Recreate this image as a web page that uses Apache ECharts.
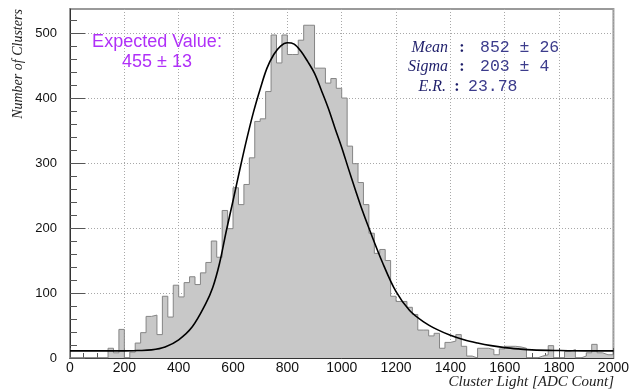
<!DOCTYPE html>
<html>
<head>
<meta charset="utf-8">
<script src="https://cdn.jsdelivr.net/npm/echarts@6/dist/echarts.min.js"></script>
<style>
html,body{margin:0;padding:0;background:#fff;}
#c{width:632px;height:390px;}
</style>
</head>
<body>
<div id="c"></div>
<script>
// Histogram: 100 bins of width 20 from 0 to 2000 (counts)
const binWidth = 20;
const counts = [
  0, 0, 0, 0, 0, 0, 0, 15, 8, 44,
  0, 9, 23, 39, 64, 66, 36, 95, 63, 112,
  94, 116, 125, 113, 131, 147, 180, 155, 227, 199,
  262, 236, 267, 308, 364, 368, 410, 497, 454, 497,
  467, 467, 489, 512, 512, 446, 446, 423, 430, 415,
  400, 326, 299, 270, 236, 192, 161, 167, 150, 95,
  87, 87, 78, 67, 43, 43, 34, 38, 15, 24,
  26, 36, 18, 3, 0, 15, 15, 13, 5, 14,
  18, 18, 17, 15, 0, 0, 3, 5, 19, 0,
  0, 10, 13, 0, 3, 8, 21, 8, 5, 5
];
// Fit curve
const fitX = [0, 100, 200, 250, 300, 350, 400, 450, 500, 525, 550, 575, 600, 625, 650, 675, 700, 725, 750, 775, 800, 825, 850, 875, 900, 925, 950, 975, 1000, 1025, 1050, 1075, 1100, 1150, 1200, 1250, 1300, 1350, 1400, 1450, 1500, 1550, 1600, 1650, 1700, 1800, 1900, 2000];
const fitY = [11, 11, 11, 11.5, 12.5, 17, 28, 48, 84, 108, 145, 195, 242, 290, 336, 378, 414, 446, 467, 480, 485, 483, 472, 456, 438, 412, 385, 354, 324, 291, 259, 228, 200, 147, 102, 73, 56, 44, 35, 28, 23, 19, 16, 14, 12.5, 11.5, 11, 11];
const xTicks = [0, 200, 400, 600, 800, 1000, 1200, 1400, 1600, 1800, 2000];
const yTicks = [0, 100, 200, 300, 400, 500];
const yMinorTicks = [20, 40, 60, 80, 120, 140, 160, 180, 220, 240, 260, 280, 320, 340, 360, 380, 420, 440, 460, 480, 520];
const yMax = 537;

const histData = counts.map((v, i) => [i * binWidth, v]);
histData.push([counts.length * binWidth, counts[counts.length - 1]]);
const fitData = fitX.map((x, i) => [x, fitY[i]]);

const chart = echarts.init(document.getElementById('c'), null, {renderer: 'canvas'});
const serif = '"Liberation Serif", "DejaVu Serif", serif';
const sans = '"Liberation Sans", Arial, sans-serif';
const mono = '"Liberation Mono", "DejaVu Sans Mono", monospace';
const navy = '#1e1e6a';

chart.setOption({
  animation: false,
  backgroundColor: '#ffffff',
  grid: {left: 70, right: 17, top: 9, bottom: 32, show: true, borderColor: '#9a9a9a', borderWidth: 2, backgroundColor: 'transparent'},
  xAxis: {
    type: 'value', min: 0, max: 2000, interval: 200,
    axisLine: {show: true, onZero: false, lineStyle: {color: '#333', width: 1}},
    axisTick: {show: true, inside: true, length: 10, customValues: xTicks, lineStyle: {color: '#555', width: 1}},
    minorTick: {show: true, splitNumber: 4, length: 5, lineStyle: {color: '#555', width: 1}},
    axisLabel: {fontSize: 14, color: '#111', fontFamily: sans, margin: 3, customValues: xTicks, formatter: v => String(v)},
    splitLine: {show: true, lineStyle: {color: '#a8a8a8', type: [1, 2], width: 1}},
    minorSplitLine: {show: false}
  },
  yAxis: [{
    type: 'value', min: 0, max: yMax, interval: 100,
    axisLine: {show: true, onZero: false, lineStyle: {color: '#333', width: 1}},
    axisTick: {show: true, inside: true, length: 15, customValues: yTicks, lineStyle: {color: '#555', width: 1}},
    axisLabel: {fontSize: 13, color: '#111', fontFamily: sans, margin: 13, customValues: yTicks, formatter: v => String(v)},
    splitLine: {show: true, lineStyle: {color: '#a8a8a8', type: [1, 2], width: 1}}
  }, {
    type: 'value', min: 0, max: yMax, position: 'left',
    axisLine: {show: false},
    axisTick: {show: true, inside: true, length: 7, customValues: yMinorTicks, lineStyle: {color: '#555', width: 1}},
    axisLabel: {show: false},
    splitLine: {show: false}
  }],
  series: [{
    type: 'line', step: 'end', data: histData, symbol: 'none', yAxisIndex: 0,
    lineStyle: {color: '#858585', width: 1},
    areaStyle: {color: '#c8c8c8', opacity: 1},
    z: 2
  }, {
    type: 'line', data: fitData, smooth: 0.35, symbol: 'none', yAxisIndex: 0,
    lineStyle: {color: '#000', width: 1.6},
    z: 3
  }],
  graphic: [
    {type: 'text', z: 10, style: {text: 'Expected Value:', x: 157, y: 42, textAlign: 'center', textVerticalAlign: 'middle', fill: '#b030f8', font: '18px ' + sans}},
    {type: 'text', z: 10, style: {text: '455 \u00b1 13', x: 157, y: 62, textAlign: 'center', textVerticalAlign: 'middle', fill: '#b030f8', font: '18px ' + sans}},
    {type: 'text', z: 10, style: {text: 'Mean', x: 448, y: 48, textAlign: 'right', textVerticalAlign: 'middle', fill: navy, font: 'italic 16px ' + serif}},
    {type: 'text', z: 10, style: {text: ':', x: 462, y: 48, textAlign: 'center', textVerticalAlign: 'middle', fill: navy, font: 'bold 16px ' + serif}},
    {type: 'text', z: 10, style: {text: '852 \u00b1 26', x: 480, y: 48, textAlign: 'left', textVerticalAlign: 'middle', fill: '#3c3c8c', font: '16.5px ' + mono}},
    {type: 'text', z: 10, style: {text: 'Sigma', x: 448, y: 67, textAlign: 'right', textVerticalAlign: 'middle', fill: navy, font: 'italic 16px ' + serif}},
    {type: 'text', z: 10, style: {text: ':', x: 462, y: 67, textAlign: 'center', textVerticalAlign: 'middle', fill: navy, font: 'bold 16px ' + serif}},
    {type: 'text', z: 10, style: {text: '203 \u00b1 4', x: 480, y: 67, textAlign: 'left', textVerticalAlign: 'middle', fill: '#3c3c8c', font: '16.5px ' + mono}},
    {type: 'text', z: 10, style: {text: 'E.R.', x: 446, y: 87, textAlign: 'right', textVerticalAlign: 'middle', fill: navy, font: 'italic 16px ' + serif}},
    {type: 'text', z: 10, style: {text: ':', x: 457, y: 87, textAlign: 'center', textVerticalAlign: 'middle', fill: navy, font: 'bold 16px ' + serif}},
    {type: 'text', z: 10, style: {text: '23.78', x: 468, y: 87, textAlign: 'left', textVerticalAlign: 'middle', fill: '#3c3c8c', font: '16.5px ' + mono}},
    {type: 'text', z: 10, rotation: Math.PI / 2, x: 18, y: 64, style: {text: 'Number of Clusters', x: 0, y: 0, textAlign: 'center', textVerticalAlign: 'middle', fill: '#222', font: 'italic 14px ' + serif}},
    {type: 'text', z: 10, style: {text: 'Cluster Light [ADC Count]', x: 614, y: 382, textAlign: 'right', textVerticalAlign: 'middle', fill: '#222', font: 'italic 15px ' + serif}}
  ]
});
</script>
</body>
</html>
